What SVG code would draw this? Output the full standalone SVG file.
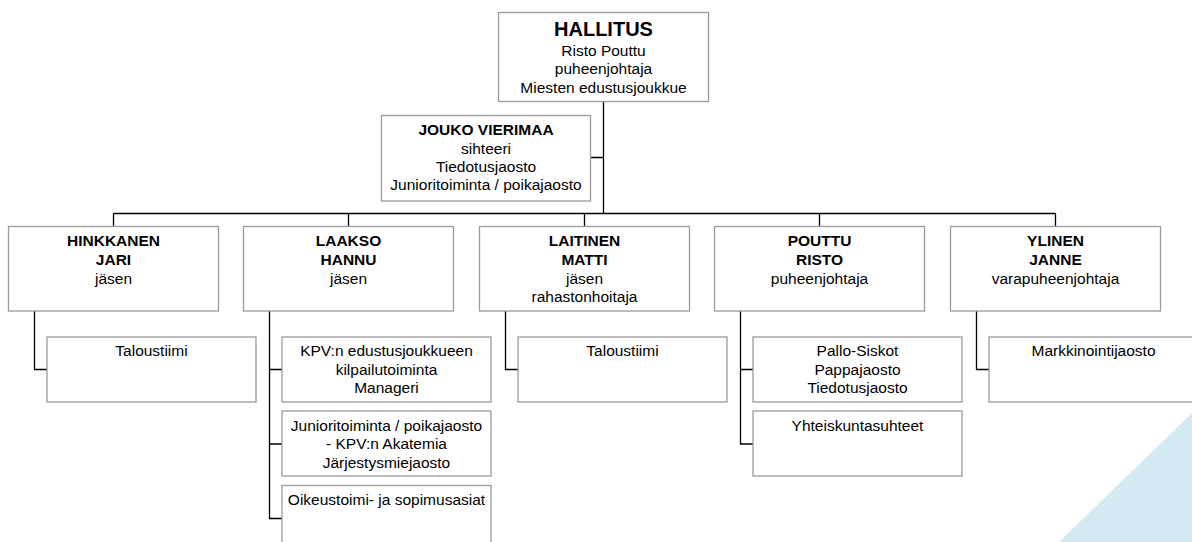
<svg xmlns="http://www.w3.org/2000/svg" width="1192" height="542" viewBox="0 0 1192 542">
<style>
.box{fill:#fff;stroke:#9a9a9a;stroke-width:1.3}
.con{fill:none;stroke:#000;stroke-width:1.3}
text{font-family:"Liberation Sans",Arial,sans-serif;font-size:15.5px;fill:#000;text-anchor:middle}
.b{font-weight:bold}
.big{font-size:20px;font-weight:bold}
</style>
<rect width="1192" height="542" fill="#fff"/>
<polygon points="1059,542 1192,413 1192,542" fill="#d4eaf2"/>
<g id="connectors">
<path class="con" d="M603.5 101.5V213.5M590.5 157.5H603.5M113.5 213.5H1055.5M113.5 213.5V226.5M348.5 213.5V226.5M584.5 213.5V226.5M819.5 213.5V226.5M1055.5 213.5V226.5"/>
<path class="con" d="M34.5 311V369.5H47"/>
<path class="con" d="M269.5 311V518.5H282M269.5 369.5H282M269.5 444H282"/>
<path class="con" d="M505.5 311V369.5H518"/>
<path class="con" d="M740.5 311V444H753M740.5 369.5H753"/>
<path class="con" d="M976.5 311V369.5H989"/>
</g>
<g id="hallitus">
<rect class="box" x="498.5" y="12.5" width="210" height="89"/>
<text class="big" x="603.5" y="36">HALLITUS</text>
<text x="603.5" y="55.5">Risto Pouttu</text>
<text x="603.5" y="74">puheenjohtaja</text>
<text x="603.5" y="92.5">Miesten edustusjoukkue</text>
</g>
<g id="vierimaa">
<rect class="box" x="381.5" y="115.5" width="209" height="85.5"/>
<text class="b" x="486" y="135">JOUKO VIERIMAA</text>
<text x="486" y="153.5">sihteeri</text>
<text x="486" y="172">Tiedotusjaosto</text>
<text x="486" y="190">Junioritoiminta / poikajaosto</text>
</g>
<g id="hinkkanen">
<rect class="box" x="8.5" y="226.5" width="210" height="84.5"/>
<text class="b" x="113.5" y="245.5">HINKKANEN</text>
<text class="b" x="113.5" y="264.5">JARI</text>
<text x="113.5" y="283.5">jäsen</text>
</g>
<g id="laakso">
<rect class="box" x="243.5" y="226.5" width="210" height="84.5"/>
<text class="b" x="348.5" y="245.5">LAAKSO</text>
<text class="b" x="348.5" y="264.5">HANNU</text>
<text x="348.5" y="283.5">jäsen</text>
</g>
<g id="laitinen">
<rect class="box" x="479.5" y="226.5" width="210" height="84.5"/>
<text class="b" x="584.5" y="245.5">LAITINEN</text>
<text class="b" x="584.5" y="264.5">MATTI</text>
<text x="584.5" y="283.5">jäsen</text>
<text x="584.5" y="302">rahastonhoitaja</text>
</g>
<g id="pouttu">
<rect class="box" x="714.5" y="226.5" width="210" height="84.5"/>
<text class="b" x="819.5" y="245.5">POUTTU</text>
<text class="b" x="819.5" y="264.5">RISTO</text>
<text x="819.5" y="283.5">puheenjohtaja</text>
</g>
<g id="ylinen">
<rect class="box" x="950.5" y="226.5" width="210" height="84.5"/>
<text class="b" x="1055.5" y="245.5">YLINEN</text>
<text class="b" x="1055.5" y="264.5">JANNE</text>
<text x="1055.5" y="283.5">varapuheenjohtaja</text>
</g>
<g id="hinkkanen-taloustiimi">
<rect class="box" x="47" y="337" width="209" height="65"/>
<text x="151.5" y="356">Taloustiimi</text>
</g>
<g id="laakso-kpv">
<rect class="box" x="282" y="337" width="209" height="65"/>
<text x="386.5" y="356">KPV:n edustusjoukkueen</text>
<text x="386.5" y="374.5">kilpailutoiminta</text>
<text x="386.5" y="393">Manageri</text>
</g>
<g id="laakso-juniori">
<rect class="box" x="282" y="411" width="209" height="65"/>
<text x="386.5" y="430.5">Junioritoiminta / poikajaosto</text>
<text x="386.5" y="449">- KPV:n Akatemia</text>
<text x="386.5" y="467.5">Järjestysmiejaosto</text>
</g>
<g id="laakso-oikeus">
<rect class="box" x="282" y="485.5" width="209" height="65"/>
<text x="386.5" y="505">Oikeustoimi- ja sopimusasiat</text>
</g>
<g id="laitinen-taloustiimi">
<rect class="box" x="518" y="337" width="209" height="65"/>
<text x="622.5" y="356">Taloustiimi</text>
</g>
<g id="pouttu-pallo">
<rect class="box" x="753" y="337" width="209" height="65"/>
<text x="857.5" y="356">Pallo-Siskot</text>
<text x="857.5" y="374.5">Pappajaosto</text>
<text x="857.5" y="393">Tiedotusjaosto</text>
</g>
<g id="pouttu-yhteiskunta">
<rect class="box" x="753" y="411" width="209" height="65"/>
<text x="857.5" y="430.5">Yhteiskuntasuhteet</text>
</g>
<g id="ylinen-markkinointi">
<rect class="box" x="989" y="337" width="209" height="65"/>
<text x="1093.5" y="356">Markkinointijaosto</text>
</g>
</svg>
